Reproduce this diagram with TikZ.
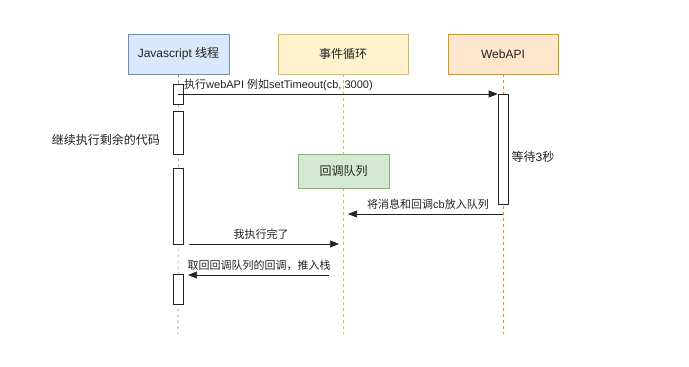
\documentclass[tikz,border=0pt]{standalone}
\usepackage{fontspec}
\setmainfont{Liberation Sans}
\newfontfamily\cjk{Noto Sans CJK SC}
\usetikzlibrary{arrows.meta}
\definecolor{blueF}{HTML}{DAE8FC}
\definecolor{blueD}{HTML}{6C8EBF}
\definecolor{yelF}{HTML}{FFF2CC}
\definecolor{yelD}{HTML}{D6B656}
\definecolor{orgF}{HTML}{FFE6CC}
\definecolor{orgD}{HTML}{D79B00}
\definecolor{grnF}{HTML}{D5E8D4}
\definecolor{grnD}{HTML}{82B366}
\definecolor{ink}{HTML}{222222}
\begin{document}
\begin{tikzpicture}[x=1pt,y=-1pt,
  font=\fontsize{11}{13}\selectfont,
  big/.style={font=\fontsize{12}{14}\selectfont},
  hdr/.style={big, draw, line width=0.6pt, minimum height=40pt, inner sep=0pt, text=ink},
  act/.style={draw=ink, fill=white, line width=0.6pt, minimum width=10pt, inner sep=0pt},
  life/.style={dashed, line width=0.6pt, dash pattern=on 3pt off 3pt},
  msg/.style={draw=ink, line width=0.7pt, -{Triangle[length=9pt,width=7pt]}},
  lbl/.style={text=ink, inner sep=0pt}]
\useasboundingbox (0,0) rectangle (689,367);
% headers
\node[hdr, fill=blueF, draw=blueD, minimum width=101pt] (js) at (178.5,54) {Javascript {\cjk 线程}};
\node[hdr, fill=yelF, draw=yelD, minimum width=130pt] (ev) at (343,54) {\cjk 事件循环};
\node[hdr, fill=orgF, draw=orgD, minimum width=110pt] (wa) at (503,54) {WebAPI};
% lifelines
\coordinate (jsend) at (178,334);
\coordinate (evend) at (343,334);
\coordinate (waend) at (503,334);
\draw[life, draw=blueD] (js.south) -- (jsend);
\draw[life, draw=yelD] (ev.south) -- (evend);
\draw[life, draw=orgD] (wa.south) -- (waend);
% callback queue
\node[big, draw=grnD, fill=grnF, line width=0.6pt, minimum width=91pt, minimum height=34pt, inner sep=0pt, text=ink] (q) at (343.5,171) {\cjk 回调队列};
% activations
\node[act, minimum height=20pt] (a1) at (178,94) {};
\node[act, minimum height=43pt] (a2) at (178,132.5) {};
\node[act, minimum height=76pt] (a3) at (178,206) {};
\node[act, minimum height=30pt] (a4) at (178,289) {};
\node[act, minimum height=110pt] (w1) at (503,149) {};
% messages
\draw[msg] (a1.center) -- (a1.center -| w1.west);
\node[lbl, anchor=south west] (t1) at (184,91) {{\cjk 执行}webAPI {\cjk 例如}setTimeout(cb, 3000)};
\node[lbl, big] (t2) at (106,140) {\cjk 继续执行剩余的代码};
\node[lbl, big] (t3) at (533,157) {{\cjk 等待}3{\cjk 秒}};
\coordinate (m2s) at (503,214);
\coordinate (m2e) at (348,214);
\draw[msg] (m2s) -- (m2e);
\node[lbl, anchor=south] (t4) at (428,210) {{\cjk 将消息和回调}cb{\cjk 放入队列}};
\coordinate (m3s) at (189,244);
\coordinate (m3e) at (339,244);
\draw[msg] (m3s) -- (m3e);
\node[lbl, anchor=south] (t5) at (261,240) {\cjk 我执行完了};
\coordinate (m4s) at (329,275);
\coordinate (m4e) at (188,275);
\draw[msg] (m4s) -- (m4e);
\node[lbl, anchor=south] (t6) at (259,271) {\cjk 取回回调队列的回调，推入栈};
\end{tikzpicture}
\end{document}
